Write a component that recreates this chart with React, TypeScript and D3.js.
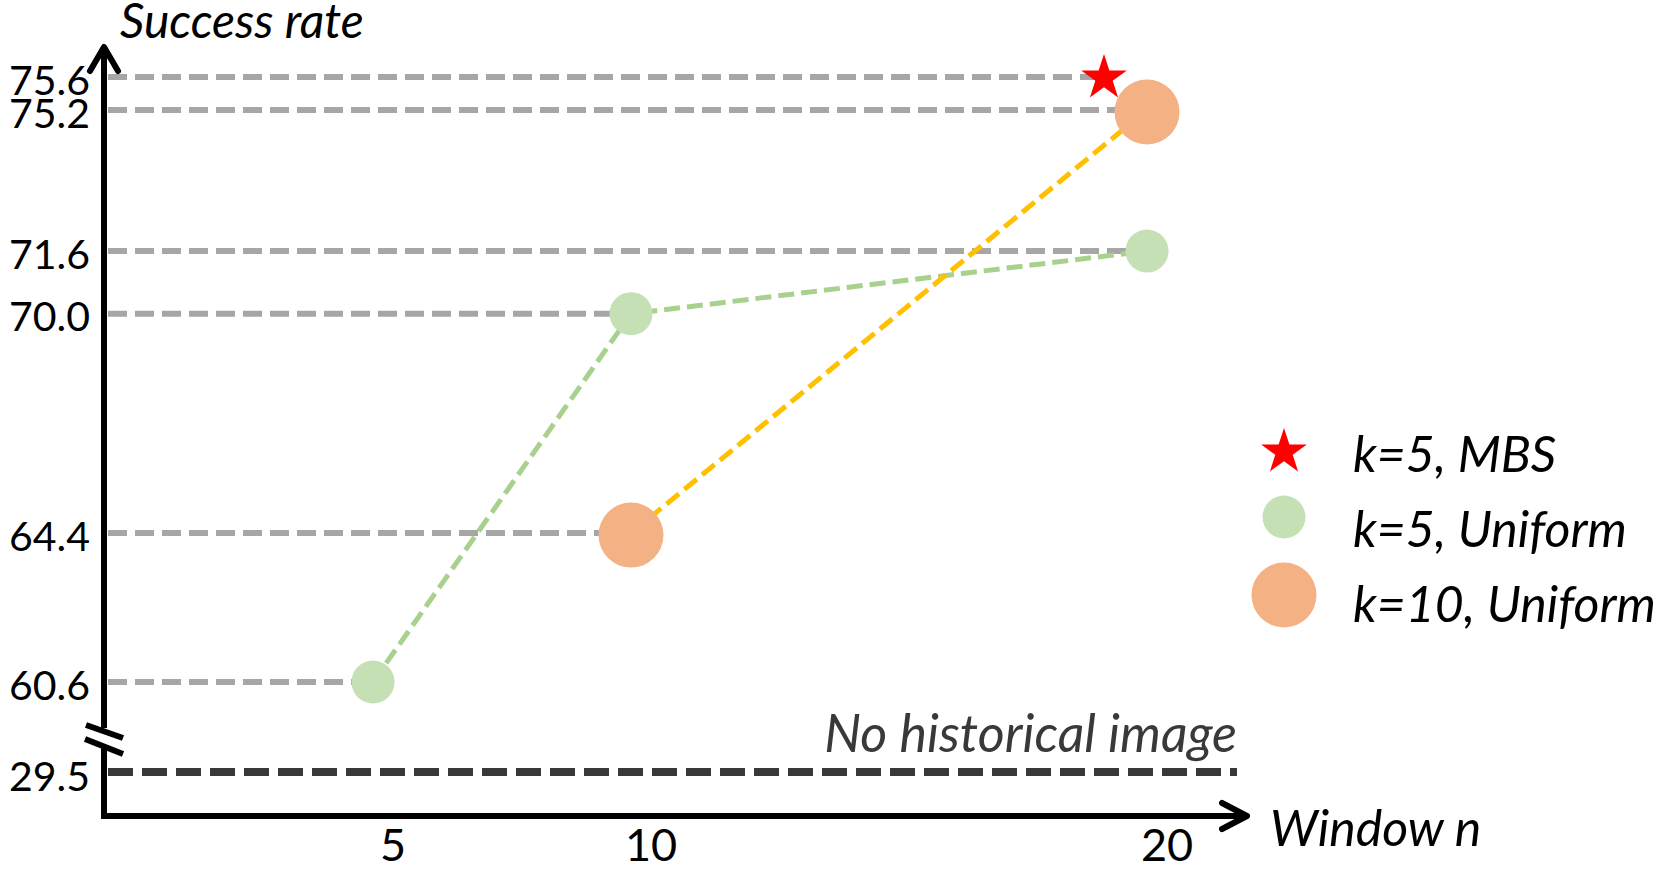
import React from "react";
import * as d3 from "d3";

const windows = [5, 10, 20];
const k5Uniform = [60.6, 70.0, 71.6];
const k10Windows = [10, 20];
const k10Uniform = [64.4, 75.2];
const mbsWindow = 20;
const mbsValue = 75.6;
const baselineValue = 29.5;
const baselineLabel = "No historical image";
const xTickLabels = ["5", "10", "20"];
const legendLabels = ["k=5, MBS", "k=5, Uniform", "k=10, Uniform"];

const W = 1661;
const H = 872;
const FONT = "Lato, 'Open Sans', sans-serif";

const axisX = 104;
const axisY = 816;
const lowerBandY = 772;

const x = d3.scaleLinear().domain([5, 20]).range([373, 1147]);
const y = d3.scaleLinear().domain([60.6, 75.2, 75.6]).range([682, 110, 77]);

const C_GRID = "#A6A6A6";
const C_GREEN_LINE = "#A9D18E";
const C_GREEN = "#C5E0B4";
const C_ORANGE = "#F4B183";
const C_YELLOW = "#FFC000";
const C_DARK = "#3B3838";

function starPath(cx: number, cy: number, R: number) {
  const r = R * 0.382;
  const pts: [number, number][] = [];
  for (let i = 0; i < 10; i++) {
    const a = -Math.PI / 2 + (i * Math.PI) / 5;
    const rr = i % 2 === 0 ? R : r;
    pts.push([cx + rr * Math.cos(a), cy + rr * Math.sin(a)]);
  }
  return d3.line()(pts)! + "Z";
}

export default function App() {
  const green = windows.map((w, i) => ({ w, v: k5Uniform[i] }));
  const orange = k10Windows.map((w, i) => ({ w, v: k10Uniform[i] }));
  const starX = x(mbsWindow) - 43;
  const line = d3
    .line<{ w: number; v: number }>()
    .x((d) => x(d.w))
    .y((d) => y(d.v));

  const gridItems = [
    ...green.map((d) => ({ v: d.v, xe: x(d.w) })),
    ...orange.map((d) => ({ v: d.v, xe: x(d.w) })),
    { v: mbsValue, xe: starX },
  ];
  const yTicks = [...k5Uniform, ...k10Uniform, mbsValue];

  const legendY = [452, 517, 595];
  const legendTextY = [472, 547, 622];
  const lx = 1284;

  return (
    <div style={{ position: "fixed", left: 0, top: 0 }}>
      <svg width={W} height={H} style={{ display: "block", background: "#fff" }}>
        {gridItems.map((g, i) => (
          <line
            key={"g" + i}
            x1={axisX + 4}
            x2={g.xe}
            y1={y(g.v)}
            y2={y(g.v)}
            stroke={C_GRID}
            strokeWidth={6}
            strokeDasharray="19 8"
          />
        ))}
        <line
          x1={axisX + 4}
          x2={1237}
          y1={lowerBandY}
          y2={lowerBandY}
          stroke={C_DARK}
          strokeWidth={8}
          strokeDasharray="25 9"
        />
        <text
          x={1237}
          y={752}
          textAnchor="end"
          fontFamily={FONT}
          fontStyle="italic"
          fontSize={52}
          fill={C_DARK}
        >
          {baselineLabel}
        </text>

        <path d={line(green)!} fill="none" stroke={C_GREEN_LINE} strokeWidth={5} strokeDasharray="16 7" />
        <path d={line(orange)!} fill="none" stroke={C_YELLOW} strokeWidth={5} strokeDasharray="16 7" />

        {green.map((d, i) => (
          <circle key={"gc" + i} cx={x(d.w)} cy={y(d.v)} r={21.5} fill={C_GREEN} />
        ))}
        {orange.map((d, i) => (
          <circle key={"oc" + i} cx={x(d.w)} cy={y(d.v) + 2} r={32.5} fill={C_ORANGE} />
        ))}
        <path d={starPath(starX, y(mbsValue) + 1, 24)} fill="#FF0000" />

        <line x1={axisX} x2={axisX} y1={47} y2={728} stroke="#000" strokeWidth={6} />
        <line x1={axisX} x2={axisX} y1={746} y2={axisY + 3} stroke="#000" strokeWidth={6} />
        <path d={`M${axisX - 14},71 L${axisX},47 L${axisX + 14},71`} fill="none" stroke="#000" strokeWidth={6} strokeLinecap="round" strokeLinejoin="round" />
        <line x1={axisX - 3} x2={1246} y1={axisY} y2={axisY} stroke="#000" strokeWidth={6} />
        <path d={`M1222,803 L1247,${axisY} L1222,829`} fill="none" stroke="#000" strokeWidth={6} strokeLinecap="round" strokeLinejoin="round" />
        <line x1={86} y1={725} x2={123} y2={738} stroke="#000" strokeWidth={6} />
        <line x1={85} y1={739} x2={123} y2={754} stroke="#000" strokeWidth={6} />

        {yTicks.map((v, i) => (
          <text
            key={"yt" + i}
            x={90}
            y={y(v) + 2}
            textAnchor="end"
            dominantBaseline="central"
            fontFamily={FONT}
            fontSize={41}
            fill="#000"
          >
            {v.toFixed(1)}
          </text>
        ))}
        <text x={90} y={lowerBandY + 3} textAnchor="end" dominantBaseline="central" fontFamily={FONT} fontSize={41} fill="#000">
          {baselineValue.toFixed(1)}
        </text>

        {windows.map((w, i) => (
          <text key={"xt" + i} x={x(w) + 20} y={861} textAnchor="middle" fontFamily={FONT} fontSize={45} fill="#000">
            {xTickLabels[i]}
          </text>
        ))}

        <text x={120} y={38} fontFamily={FONT} fontStyle="italic" fontSize={48} fill="#000">
          Success rate
        </text>
        <text x={1270} y={846} fontFamily={FONT} fontStyle="italic" fontSize={50} fill="#000">
          Window n
        </text>

        <path d={starPath(lx, legendY[0], 24)} fill="#FF0000" />
        <circle cx={lx} cy={legendY[1]} r={21.5} fill={C_GREEN} />
        <circle cx={lx} cy={legendY[2]} r={32.5} fill={C_ORANGE} />
        {legendLabels.map((t, i) => (
          <text key={"lg" + i} x={1353} y={legendTextY[i]} fontFamily={FONT} fontStyle="italic" fontSize={50} fill="#000">
            {t}
          </text>
        ))}
      </svg>
    </div>
  );
}
